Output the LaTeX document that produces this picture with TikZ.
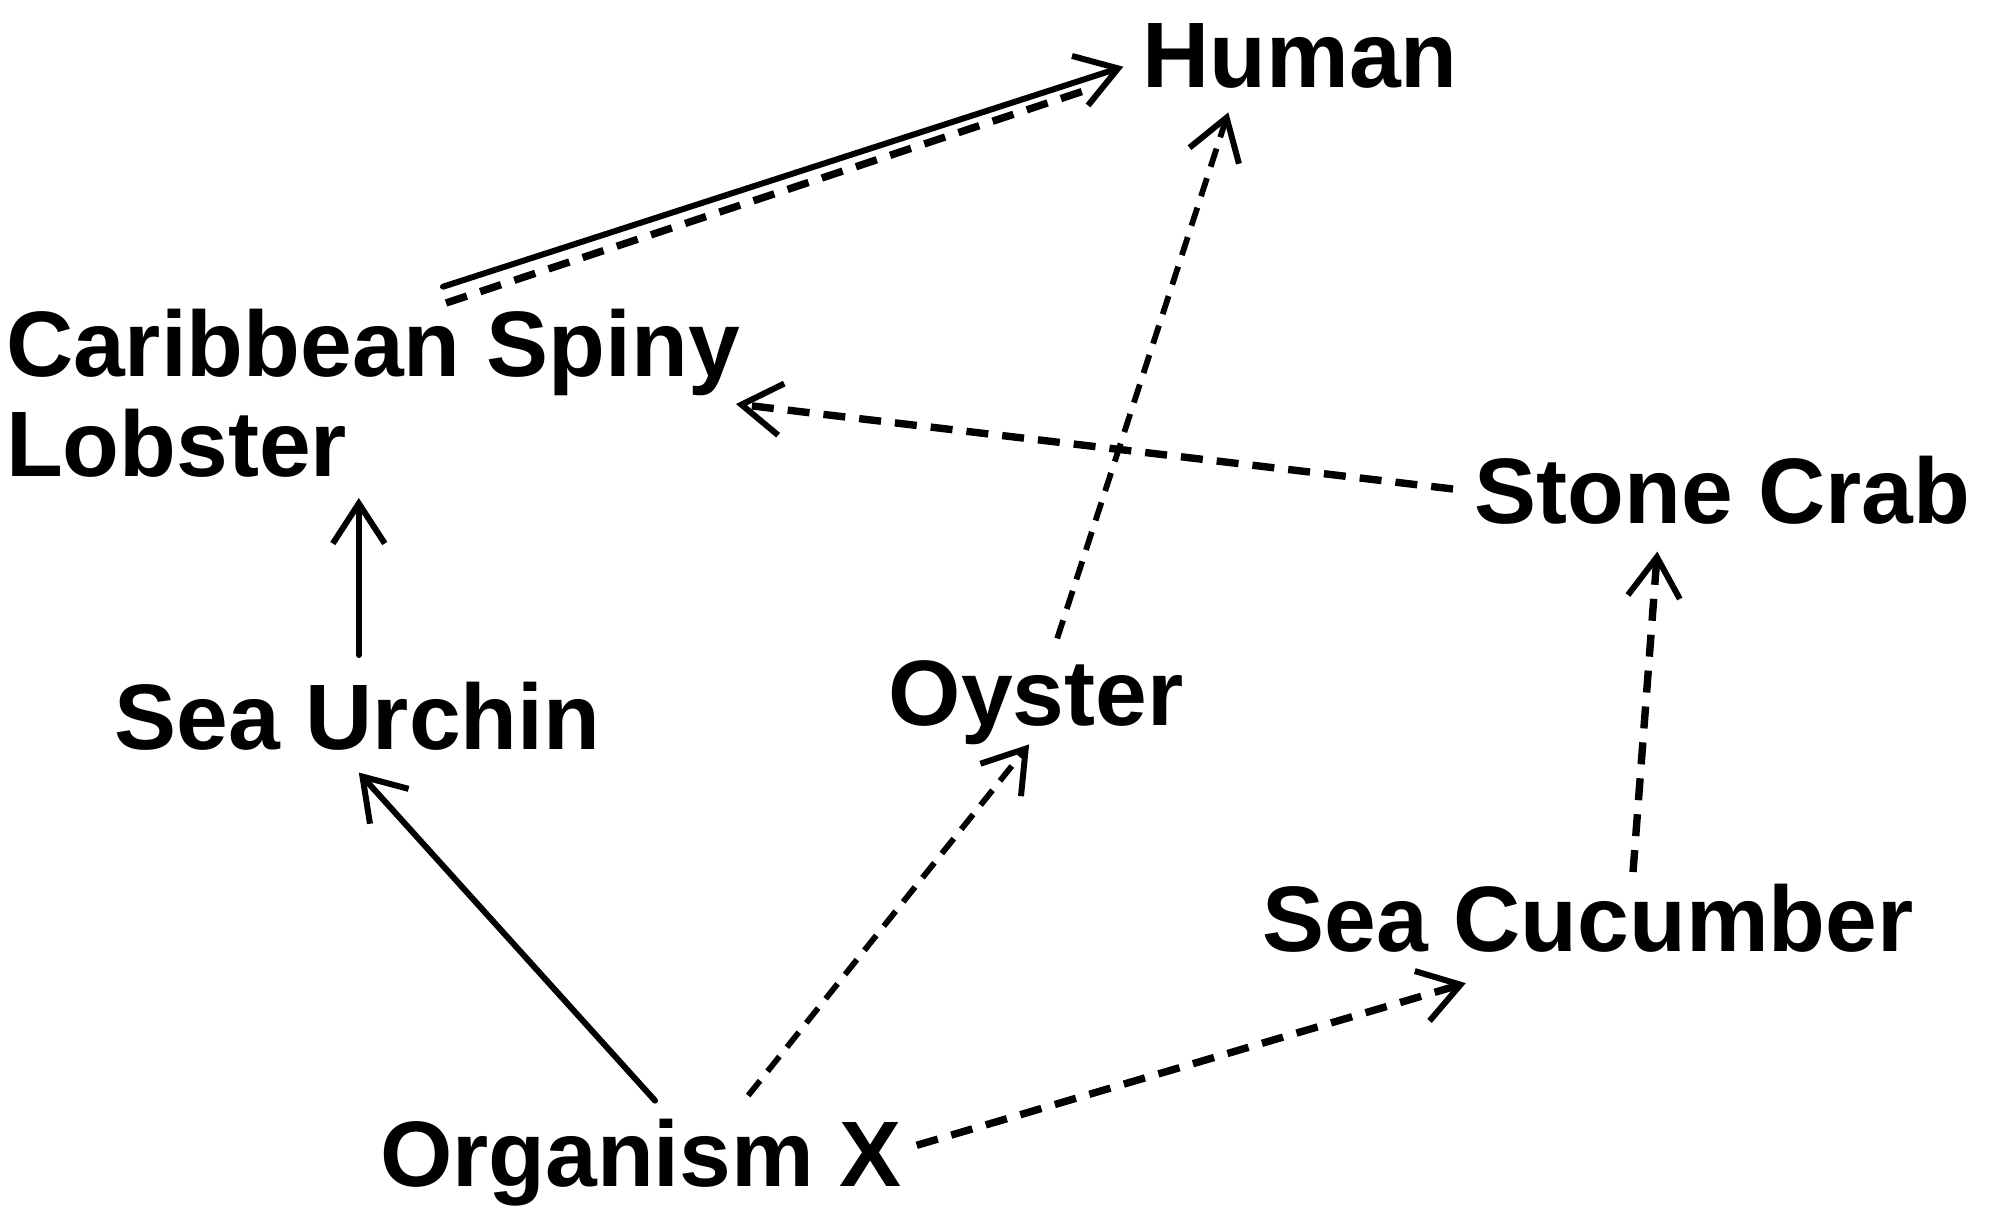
\documentclass[tikz,border=0pt]{standalone}
\usepackage{fontspec}
\setmainfont{Liberation Sans}
\usetikzlibrary{arrows.meta,calc}
\begin{document}
\begin{tikzpicture}[x=0.5pt,y=-0.5pt,
  lbl/.style={inner sep=0pt,outer sep=0pt,font=\fontsize{46.5pt}{49.65pt}\selectfont\bfseries},
  arr/.style={-{Straight Barb[length=20pt,width=26pt,line width=3pt]}},
  solidline/.style={line width=3pt,line cap=round},
  thickdash/.style={line width=3.7pt,dash pattern=on 11pt off 7pt},
  thindash/.style={line width=2.9pt,dash pattern=on 9.5pt off 6pt}]
\useasboundingbox (0,0) rectangle (2002,1212);
\node[lbl,anchor=base] (human) at (1300,87) {Human};
\node[lbl,anchor=base west,align=left] (lob) at (6,476) {Caribbean Spiny\\Lobster};
\node[lbl,anchor=base] (stone) at (1722.4,523.5) {Stone Crab};
\node[lbl,anchor=base] (urchin) at (357.5,749.5) {Sea Urchin};
\node[lbl,anchor=base] (oyster) at (1036,725) {Oyster};
\node[lbl,anchor=base] (cuc) at (1588,951) {Sea Cucumber};
\node[lbl,anchor=base] (orgx) at (641,1186) {Organism X};
% Lobster -> Human (solid and dashed)
\draw[thickdash] ($(lob.base west)+(440,-173)$) -- ($(human.base)+(-208.3,1.3)$);
\draw[solidline,arr] ($(lob.base west)+(437,-189.3)$) -- ($(human.base)+(-176.7,-20.3)$);
% Oyster -> Human
\draw[thindash,arr] ($(oyster.base)+(21.2,-86.6)$) -- ($(human.base)+(-71.7,25.4)$);
% Stone Crab -> Lobster
\draw[thickdash,arr] ($(stone.base)+(-269.4,-34.5)$) -- ($(lob.base west)+(730,-72)$);
% Sea Urchin -> Lobster
\draw[solidline,arr] ($(urchin.base)+(1.3,-94.5)$) -- ($(lob.base west)+(352.8,22)$);
% Organism X -> Sea Urchin
\draw[solidline,arr] ($(orgx.base)+(14,-85.4)$) -- ($(urchin.base)+(1.3,23)$);
% Organism X -> Oyster
\draw[thindash,arr] ($(orgx.base)+(107.2,-90.5)$) -- ($(oyster.base)+(-6.9,19.4)$);
% Organism X -> Sea Cucumber
\draw[thickdash,arr] ($(orgx.base)+(275.7,-40.7)$) -- ($(cuc.base)+(-122.2,32.1)$);
% Sea Cucumber -> Stone Crab
\draw[thickdash,arr] ($(cuc.base)+(45,-79)$) -- ($(stone.base)+(-65.1,28.1)$);
\end{tikzpicture}
\end{document}
